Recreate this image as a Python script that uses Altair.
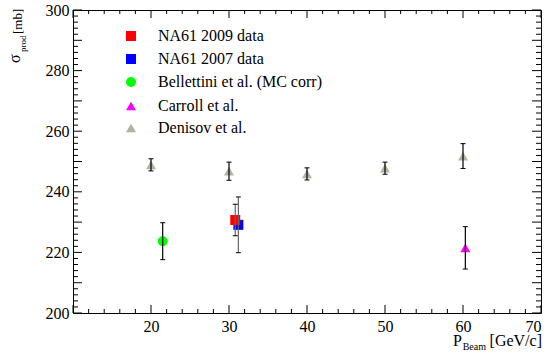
import altair as alt
import pandas as pd

# ---- data ----
series_names = ["NA61 2009 data", "NA61 2007 data", "Bellettini et al. (MC corr)",
                "Carroll et al.", "Denisov et al."]
series_colors = ["#ff0000", "#0000ff", "#00ff00", "#ff00ff", "#b5b09f"]
series_shapes = ["square", "square", "circle", "triangle-up", "triangle-up"]

denisov_p = [20, 30, 40, 50, 60]
denisov_sigma = [248.9, 246.8, 245.9, 247.8, 251.8]
denisov_err = [2.0, 3.0, 2.0, 2.0, 4.1]

carroll_p = [60.3]
carroll_sigma = [221.5]
carroll_err = [7.0]

bellettini_p = [21.5]
bellettini_sigma = [223.7]
bellettini_err = [6.1]

na61_2007_p = [31.2]
na61_2007_sigma = [229.1]
na61_2007_err = [9.2]

na61_2009_p = [30.8]
na61_2009_sigma = [230.7]
na61_2009_err = [5.2]

x_major = [10, 20, 30, 40, 50, 60, 70]
x_labels = [20, 30, 40, 50, 60, 70]
y_major = list(range(200, 301, 10))
x_minor = [v for v in range(10, 71, 2) if v not in x_major]
y_minor = [v for v in range(200, 301, 2) if v not in y_major]

W, H = 468, 303
XMIN, XMAX, YMIN, YMAX = 10, 70, 200, 300
PX_X = W / (XMAX - XMIN)
PX_Y = H / (YMAX - YMIN)
CAP = 2.5 / PX_X          # half cap width (data units)
BW = 0.6 / PX_X           # half error-bar line width
LW_X = 0.5 / PX_X         # half line width for vertical lines
LW_Y = 0.5 / PX_Y         # half line width for horizontal lines

# ---- tables ----
rows = []
def add(name, ps, ss, es, grp):
    for p, s, e in zip(ps, ss, es):
        rows.append(dict(series=name, p=p, sigma=s, lo=s - e, hi=s + e,
                         cl=p - CAP, cr=p + CAP, bl=p - BW, br=p + BW,
                         lo1=s - e - LW_Y, lo2=s - e + LW_Y,
                         hi1=s + e - LW_Y, hi2=s + e + LW_Y, grp=grp))

add("Denisov et al.", denisov_p, denisov_sigma, denisov_err, "k")
add("Carroll et al.", carroll_p, carroll_sigma, carroll_err, "k")
add("Bellettini et al. (MC corr)", bellettini_p, bellettini_sigma, bellettini_err, "k")
add("NA61 2007 data", na61_2007_p, na61_2007_sigma, na61_2007_err, "g")
add("NA61 2009 data", na61_2009_p, na61_2009_sigma, na61_2009_err, "g")
df = pd.DataFrame(rows)
df_k = df[df.grp == "k"]
df_g = df[df.grp == "g"]

FONT = "Liberation Serif"
xs = alt.Scale(domain=[XMIN, XMAX], nice=False, zero=False)
ys = alt.Scale(domain=[YMIN, YMAX], nice=False, zero=False)
cscale = alt.Scale(domain=series_names, range=series_colors)
sscale = alt.Scale(domain=series_names, range=series_shapes)

def errbars(d, col):
    bar = alt.Chart(d).mark_rect(color=col).encode(
        x=alt.X("bl:Q", scale=xs), x2="br:Q", y=alt.Y("lo:Q", scale=ys), y2="hi:Q")
    c1 = alt.Chart(d).mark_rect(color="black").encode(
        x=alt.X("cl:Q", scale=xs), x2="cr:Q", y=alt.Y("lo1:Q", scale=ys), y2="lo2:Q")
    c2 = alt.Chart(d).mark_rect(color="black").encode(
        x=alt.X("cl:Q", scale=xs), x2="cr:Q", y=alt.Y("hi1:Q", scale=ys), y2="hi2:Q")
    return [bar, c1, c2]

err_layers = errbars(df_k, "black") + errbars(df_g, "#666666")

points = alt.Chart(df).mark_point(filled=True, size=100, opacity=1).encode(
    x=alt.X("p:Q", scale=xs, axis=alt.Axis(values=x_labels, title=None, ticks=False, domain=False,
                                           grid=False, labelFont=FONT, labelFontSize=16,
                                           labelPadding=5, labelOverlap=False)),
    y=alt.Y("sigma:Q", scale=ys, axis=alt.Axis(values=y_major, title=None, ticks=False, domain=False,
                                               grid=False, labelFont=FONT, labelFontSize=16,
                                               labelPadding=4, labelOverlap=False)),
    color=alt.Color("series:N", scale=cscale, legend=None),
    shape=alt.Shape("series:N", scale=sscale, legend=None),
)

# inward ticks (ROOT style) on all four sides, drawn as thin rects in data units
def ytick_df(vals, L):
    d = L / PX_X
    return pd.DataFrame({"v1": [v - LW_Y for v in vals] * 2,
                         "v2": [v + LW_Y for v in vals] * 2,
                         "a": [XMIN] * len(vals) + [XMAX - d] * len(vals),
                         "b": [XMIN + d] * len(vals) + [XMAX] * len(vals)})

def xtick_df(vals, L):
    d = L / PX_Y
    return pd.DataFrame({"v1": [v - LW_X for v in vals] * 2,
                         "v2": [v + LW_X for v in vals] * 2,
                         "a": [YMIN] * len(vals) + [YMAX - d] * len(vals),
                         "b": [YMIN + d] * len(vals) + [YMAX] * len(vals)})

ytk = pd.concat([ytick_df(y_major, 9), ytick_df(y_minor, 5)])
xtk = pd.concat([xtick_df(x_major, 8), xtick_df(x_minor, 4)])

yt = alt.Chart(ytk).mark_rect(color="black").encode(
    y=alt.Y("v1:Q", scale=ys), y2="v2:Q", x=alt.X("a:Q", scale=xs), x2="b:Q")
xt = alt.Chart(xtk).mark_rect(color="black").encode(
    x=alt.X("v1:Q", scale=xs), x2="v2:Q", y=alt.Y("a:Q", scale=ys), y2="b:Q")

# text helpers (titles and legend)
lab = pd.DataFrame({"t": [0]})
def txt(s, x, y, size, align="left", angle=0):
    return alt.Chart(lab).mark_text(text=s, font=FONT, fontSize=size, align=align,
                                    angle=angle).encode(x=alt.value(x), y=alt.value(y))

ox, oy = 73, 10
titles = [
    txt("[GeV/c]", 542 - ox, 341 - oy, 16, align="right"),
    txt("Beam", 486 - ox, 347 - oy, 10, align="right"),
    txt("P", 462 - ox, 341 - oy, 16, align="right"),
    txt("σ", 15 - ox, 63 - oy, 16, angle=270),
    txt("prod", 23 - ox, 52 - oy, 9, angle=270),
    txt("[mb]", 17.5 - ox, 34 - oy, 13, angle=270),
]

# legend (top-left box of the reference)
legend_rows_y = [36, 59, 82, 106, 128]
legend_layers = []
for name, ry in zip(series_names, legend_rows_y):
    legend_layers.append(
        alt.Chart(pd.DataFrame({"series": [name]})).mark_point(filled=True, size=100, opacity=1).encode(
            x=alt.value(131 - ox), y=alt.value(ry - oy),
            color=alt.Color("series:N", scale=cscale, legend=None),
            shape=alt.Shape("series:N", scale=sscale, legend=None)))
    legend_layers.append(txt(name, 158 - ox, ry - oy, 16))

chart = alt.layer(points, *err_layers, yt, xt, *titles, *legend_layers).properties(
    width=W, height=H,
    autosize=alt.AutoSizeParams(type="none"),
    padding={"left": ox, "top": oy, "right": 548 - ox - W, "bottom": 356 - oy - H},
).configure_view(stroke="black")

chart.save("out.html", embed_options={"renderer": "svg", "actions": False})
